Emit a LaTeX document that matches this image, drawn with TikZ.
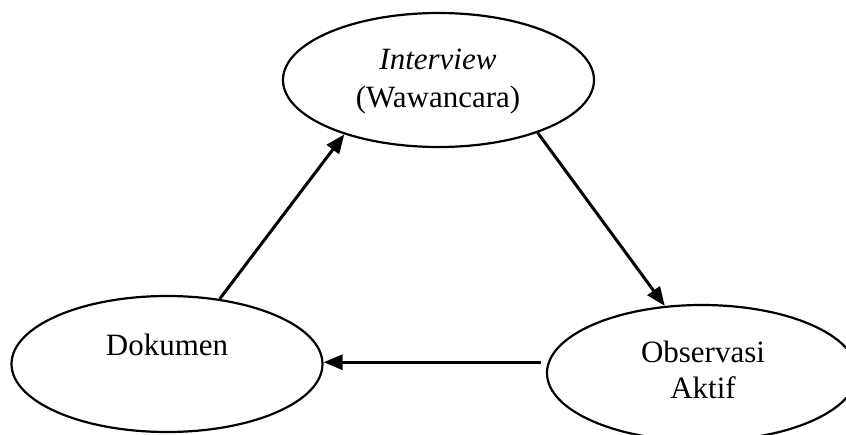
\documentclass[tikz,border=0pt]{standalone}
\usepackage{fontspec}
\setmainfont{Liberation Serif}
\usetikzlibrary{shapes.geometric,arrows.meta}
\begin{document}
\begin{tikzpicture}[x=1pt,y=-1pt,
  oval/.style={draw, ellipse, line width=2.2pt, inner sep=0pt},
  txt/.style={font=\fontsize{31}{37}\selectfont, inner sep=0pt, anchor=base},
  conn/.style={line width=3pt, -{Triangle[length=19pt,width=15pt]}}]
\useasboundingbox (0,0) rectangle (846,434);
\clip (0,0) rectangle (846,434);
\node[oval, minimum width=311pt, minimum height=134pt] (int) at (438.5,80) {};
\node[oval, minimum width=311pt, minimum height=136pt] (dok) at (167,364) {};
\node[oval, minimum width=310pt, minimum height=136pt] (obs) at (702,373) {};
\node[txt] (t1) at (438,69) {\textit{Interview}};
\node[txt] (t2) at (438,107) {(Wawancara)};
\node[txt] (t3) at (167,355) {Dokumen};
\node[txt] (t4) at (703,362) {Observasi};
\node[txt] (t5) at (703,398) {Aktif};
\draw[conn] (dok.51) -- (int.210);
\draw[conn] (int.-28) -- (obs.119.7);
\draw[conn, shorten <=7pt] (obs.176.4) -- (obs.176.4 -| dok.east);
\end{tikzpicture}
\end{document}
